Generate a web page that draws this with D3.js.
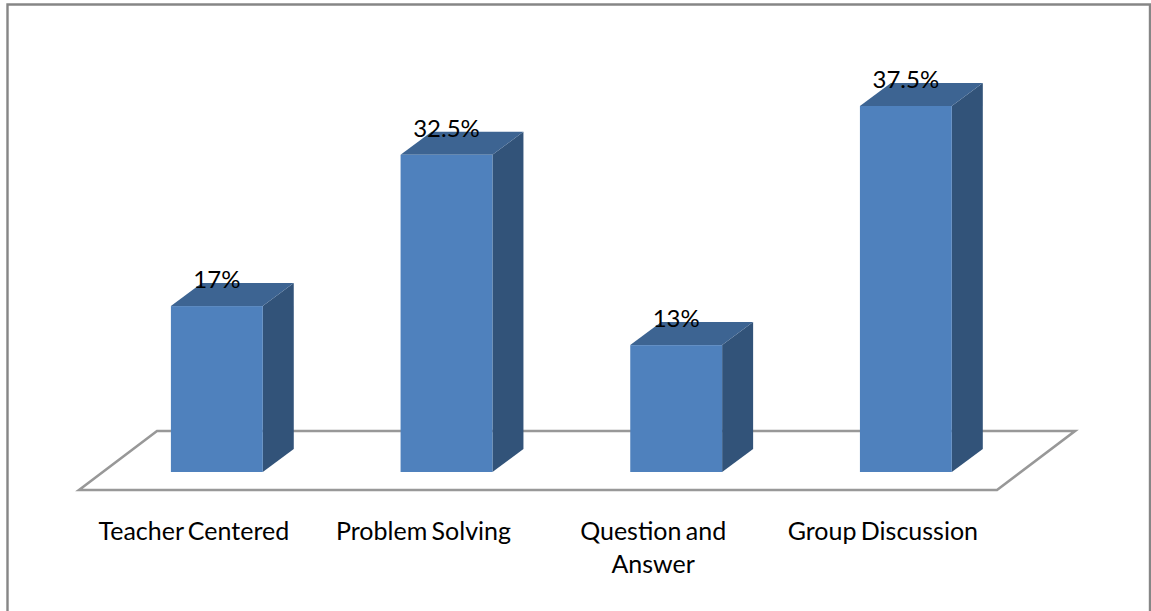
<!DOCTYPE html>
<html>
<head>
<meta charset="utf-8">
<script src="https://cdn.jsdelivr.net/npm/d3@7/dist/d3.min.js"></script>
<style>
  html, body { margin: 0; padding: 0; background: #fff; overflow: hidden; }
  text { font-family: Lato, "Open Sans", sans-serif; fill: #000; }
</style>
</head>
<body>
<svg id="chart" width="1151" height="611"></svg>
<script>
// Teaching methods and their share of responses
const categories = ["Teacher Centered", "Problem Solving", "Question and Answer", "Group Discussion"];
const shares = [17, 32.5, 13, 37.5];
const shareLabels = ["17%", "32.5%", "13%", "37.5%"];

const svg = d3.select("#chart");

// Oblique depth offset of the 3-D projection
const depth = { x: 31, y: -23 };

const x = d3.scaleBand().domain(categories).range([102, 1020.7]).paddingInner(0.6).paddingOuter(0.3);
const y = d3.scaleLinear().domain([0, 37.5]).range([472, 106]);

// Chart-area frame (open at the bottom, where the page is cut off)
svg.append("path")
  .attr("d", "M7.5,611V4.5H1150V611")
  .attr("fill", "none").attr("stroke", "#868686").attr("stroke-width", 2.4);

// Floor plane
svg.append("path")
  .attr("d", "M79,490L157,431H1075L997,490Z")
  .attr("fill", "#fff").attr("stroke", "#989898").attr("stroke-width", 2.6)
  .attr("stroke-linejoin", "miter");

const bars = svg.append("g").selectAll("g")
  .data(categories.map((c, i) => ({ c, v: shares[i], label: shareLabels[i] })))
  .join("g");

const poly = pts => d3.line()(pts) + "Z";

// Right side face
bars.append("path")
  .attr("fill", "#325379")
  .attr("d", d => {
    const r = x(d.c) + x.bandwidth();
    return poly([[r, y(d.v)], [r + depth.x, y(d.v) + depth.y], [r + depth.x, y(0) + depth.y], [r, y(0)]]);
  });

// Top face
bars.append("path")
  .attr("fill", "#3D6492")
  .attr("d", d => {
    const l = x(d.c), r = l + x.bandwidth(), t = y(d.v);
    return poly([[l, t], [l + depth.x, t + depth.y], [r + depth.x, t + depth.y], [r, t]]);
  });

// Front face
bars.append("rect")
  .attr("fill", "#4F81BD")
  .attr("x", d => x(d.c))
  .attr("y", d => y(d.v))
  .attr("width", x.bandwidth())
  .attr("height", d => y(0) - y(d.v));

// Value labels sit across the top face
bars.append("text")
  .attr("text-anchor", "middle")
  .attr("font-size", 24)
  .attr("x", d => x(d.c) + x.bandwidth() / 2)
  .attr("y", d => y(d.v) - 18)
  .text(d => d.label);

// Category labels, wrapped onto two lines where the slot is too narrow
const wrapped = { "Question and Answer": ["Question and", "Answer"] };
const labels = svg.append("g").selectAll("text").data(categories).join("text")
  .attr("text-anchor", "middle")
  .attr("font-size", 25)
  .attr("word-spacing", -2);
labels.each(function (c) {
  const lines = wrapped[c] || [c];
  d3.select(this).selectAll("tspan").data(lines).join("tspan")
    .attr("x", x(c) + x.bandwidth() / 2 - 23)
    .attr("y", (_, i) => 540 + i * 33)
    .text(l => l);
});
</script>
</body>
</html>
